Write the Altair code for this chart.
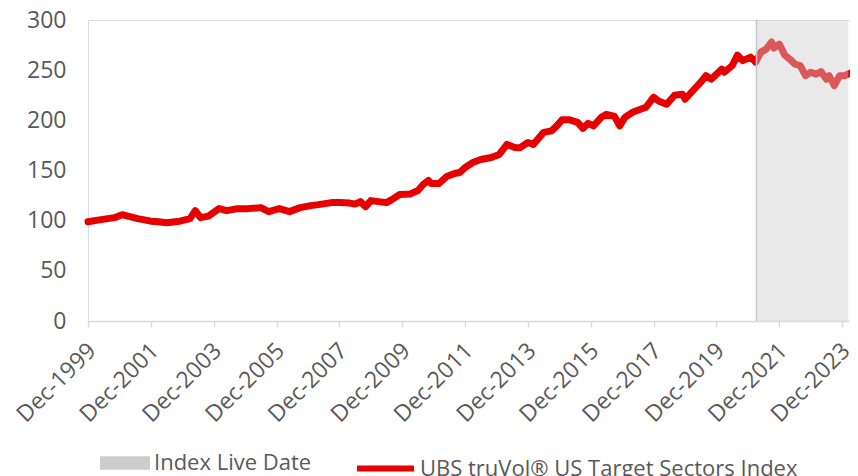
import altair as alt
import pandas as pd

SERIES = "UBS truVol® US Target Sectors Index"
LIVE = "Index Live Date"

months = ["1999-12","2000-05","2000-10","2001-01","2001-04","2001-07","2001-12","2002-03","2002-06","2002-11",
          "2003-03","2003-05","2003-07","2003-10","2004-02","2004-05","2004-09","2005-01","2005-06","2005-09",
          "2006-01","2006-05","2006-09","2007-01","2007-04","2007-09","2007-12","2008-04","2008-06","2008-08",
          "2008-10","2008-12","2009-03","2009-06","2009-08","2009-11","2010-03","2010-06","2010-08","2010-10",
          "2010-11","2011-02","2011-05","2011-08","2011-10","2011-12","2012-03","2012-06","2012-10","2013-01",
          "2013-04","2013-07","2013-09","2013-12","2014-02","2014-06","2014-09","2014-11","2015-01","2015-04",
          "2015-07","2015-09","2015-11","2016-01","2016-04","2016-06","2016-09","2016-11","2017-01","2017-04",
          "2017-07","2017-09","2017-12","2018-02","2018-05","2018-08","2018-11","2018-12","2019-03","2019-06",
          "2019-08","2019-10","2020-02","2020-03","2020-06","2020-08","2020-10","2021-01","2021-03","2021-05",
          "2021-07","2021-09","2021-10","2021-12","2022-02","2022-04","2022-06","2022-08","2022-10","2022-12",
          "2023-02","2023-04","2023-06","2023-07","2023-09","2023-11","2024-01","2024-03"]

values = [99, 101, 103, 106, 104, 102, 99.5, 99, 98, 99.5,
          102, 110, 103, 104.5, 112, 110, 112, 112, 113, 109,
          112, 109, 113, 115, 116, 118, 118, 117.5, 116.5, 119,
          114, 120, 119, 118, 121, 126, 126.5, 130, 136, 140,
          137, 137, 144, 147, 148, 153, 158, 161, 163, 166,
          176, 173, 172.7, 178, 176, 188, 189.5, 194.5, 200.5, 200.5,
          198, 192, 197, 194.5, 203, 206, 204, 194.5, 203, 208,
          211, 213, 223, 219, 216, 225, 226, 221, 229.5, 238,
          244.5, 241, 251, 248, 254.5, 265, 259.5, 263, 258, 268,
          271, 278, 272, 276, 265, 261, 256, 254.5, 244.5, 248,
          246, 248.5, 241, 244.5, 234.5, 244.5, 244.5, 247]

live_start = "2021-03-10"
live_end = "2024-02-10"
tick_years = [1999, 2001, 2003, 2005, 2007, 2009, 2011, 2013, 2015, 2017, 2019, 2021, 2023]
y_ticks = [0, 50, 100, 150, 200, 250, 300]

FONT = "Open Sans"
TXT = "#595959"
RED = "#e60000"

df = pd.DataFrame({"date": pd.to_datetime([m + "-01" for m in months]), "value": values, "series": SERIES})
shade = pd.DataFrame({"start": [pd.Timestamp(live_start)], "end": [pd.Timestamp(live_end)], "label": [LIVE]})

xscale = alt.Scale(domain=[alt.DateTime(year=1999, month=12, date=1), alt.DateTime(year=2024, month=3, date=1)], nice=False)

x_axis = alt.Axis(
    values=[alt.DateTime(year=y, month=12, date=1) for y in tick_years],
    format="%b-%Y", labelAngle=-45, labelFont=FONT, labelFontSize=23, labelColor=TXT,
    domainColor="#d9d9d9", domainWidth=1.5, tickColor="#d9d9d9", tickWidth=1.5, tickSize=6,
    labelPadding=12, labelOffset=-4, grid=False, title=None, labelOverlap=False,
)
y_axis = alt.Axis(
    values=y_ticks, domain=False, ticks=False, grid=False, title=None,
    labelFont=FONT, labelFontSize=23, labelColor=TXT, labelPadding=22,
)

line = alt.Chart(df).mark_line(strokeWidth=7, strokeCap="round", strokeJoin="round").encode(
    x=alt.X("date:T", scale=xscale, axis=x_axis),
    y=alt.Y("value:Q", scale=alt.Scale(domain=[0, 300], nice=False), axis=y_axis),
    color=alt.Color("series:N", scale=alt.Scale(domain=[SERIES], range=[RED]),
                    legend=alt.Legend(title=None, orient="none", legendX=266, legendY=417, padding=0,
                                      symbolType="stroke", symbolSize=3249, symbolStrokeWidth=6,
                                      labelFont=FONT, labelFontSize=22, labelColor=TXT, labelLimit=600,
                                      labelOffset=3)),
)

rect = alt.Chart(shade).mark_rect(opacity=0.43).encode(
    x=alt.X("start:T", scale=xscale, axis=x_axis),
    x2="end:T",
    color=alt.Color("label:N", scale=alt.Scale(domain=[LIVE], range=["#cccccc"]),
                    legend=alt.Legend(title=None, orient="none", legendX=12, legendY=418, padding=0,
                                      symbolType="M-1,-0.27H1V0.27H-1Z", symbolSize=2500, symbolOpacity=1,
                                      symbolStrokeWidth=0,
                                      labelFont=FONT, labelFontSize=22, labelColor=TXT, labelLimit=600,
                                      labelOffset=4)),
)

edge = alt.Chart(shade).mark_rule(color="#c6c6c6", strokeWidth=1.5).encode(
    x=alt.X("start:T", scale=xscale, axis=x_axis),
    y=alt.value(0),
    y2=alt.value(301),
)

chart = (
    alt.layer(line, rect, edge)
    .resolve_scale(color="independent")
    .properties(
        width=762, height=301,
        autosize=alt.AutoSizeParams(type="none"),
        padding={"left": 80, "top": 12, "right": 0, "bottom": 155},
    )
    .configure_view(stroke="transparent", strokeWidth=0, strokeOpacity=0)
    .configure_axisY(domain=False, ticks=False, grid=False)
    .configure_axisX(grid=False)
    .configure_axis(grid=False)
    .configure(background="white")
)

chart.save("out.html", embed_options={"renderer": "svg", "actions": False})
